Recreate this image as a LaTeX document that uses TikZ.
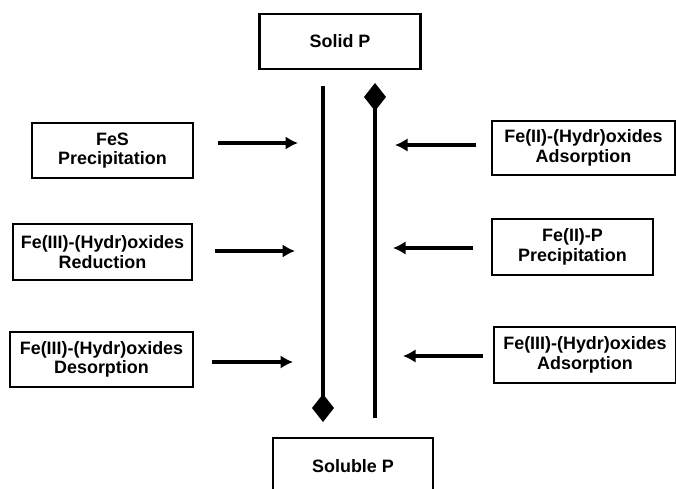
\documentclass[tikz,border=0pt]{standalone}
\usepackage{fontspec}
\setmainfont{Liberation Sans}
\usetikzlibrary{arrows.meta}
\usetikzlibrary{positioning}

\begin{document}
\begin{tikzpicture}[x=0.02cm,y=-0.02cm,
		box/.style={draw,rectangle,line width=1.6pt,align=center,inner sep=0pt,
			font=\fontsize{10.2}{11}\selectfont\bfseries},
		flow/.style={line width=2.3pt,-{Latex[length=0.25cm,width=0.27cm]}},
		route/.style={line width=2.4pt,-{Diamond[length=0.56cm,width=0.44cm]}}]
		\clip (0,0) rectangle (676,489);

		% phosphorus pools
		\node [box,minimum width=3.22cm,minimum height=1.1cm] (solid) at (340,41.5) {Solid P};
		\node [box,minimum width=3.2cm,minimum height=1.12cm] (soluble) at (353,466) {Soluble P};

		% processes releasing P
		\node [box,minimum width=3.22cm,minimum height=1.1cm] (fes) at (112.5,150.5) {FeS\\Precipitation};
		\node [box,minimum width=3.58cm,minimum height=1.12cm] (reduction) at (102.5,252) {Fe(III)-(Hydr)oxides\\Reduction};
		\node [box,minimum width=3.66cm,minimum height=1.1cm] (desorption) at (101.5,359.5) {Fe(III)-(Hydr)oxides\\Desorption};

		% processes binding P
		\node [box,minimum width=3.66cm,minimum height=1.08cm] (feiiads) at (583.5,148) {Fe(II)-(Hydr)oxides\\Adsorption};
		\node [box,minimum width=3.22cm,minimum height=1.12cm] (feiip) at (572.5,247) {Fe(II)-P\\Precipitation};
		\node [box,minimum width=3.64cm,minimum height=1.12cm] (feiiiads) at (585,355) {Fe(III)-(Hydr)oxides\\Adsorption};

		\coordinate (downtop) at (323,86);
		\coordinate (downend) at (323,422);
		\coordinate (upend) at (375,83);
		\coordinate (uptop) at (375,418);

		\draw [route] (downtop) -- (downend);
		\draw [route] (uptop) -- (upend);

		\coordinate (fesin) at (218,143);
		\coordinate (fesout) at (298,143);
		\coordinate (redin) at (215,251);
		\coordinate (redout) at (295,251);
		\coordinate (desin) at (212,362);
		\coordinate (desout) at (293,362);
		\coordinate (iiadsin) at (476,145);
		\coordinate (iiadsout) at (395,145);
		\coordinate (iipin) at (473,248);
		\coordinate (iipout) at (393,248);
		\coordinate (iiiadsin) at (483,356);
		\coordinate (iiiadsout) at (403,356);

		\draw [flow] (fesin) -- (fesout);
		\draw [flow] (redin) -- (redout);
		\draw [flow] (desin) -- (desout);
		\draw [flow] (iiadsin) -- (iiadsout);
		\draw [flow] (iipin) -- (iipout);
		\draw [flow] (iiiadsin) -- (iiiadsout);
	\end{tikzpicture}
\end{document}
